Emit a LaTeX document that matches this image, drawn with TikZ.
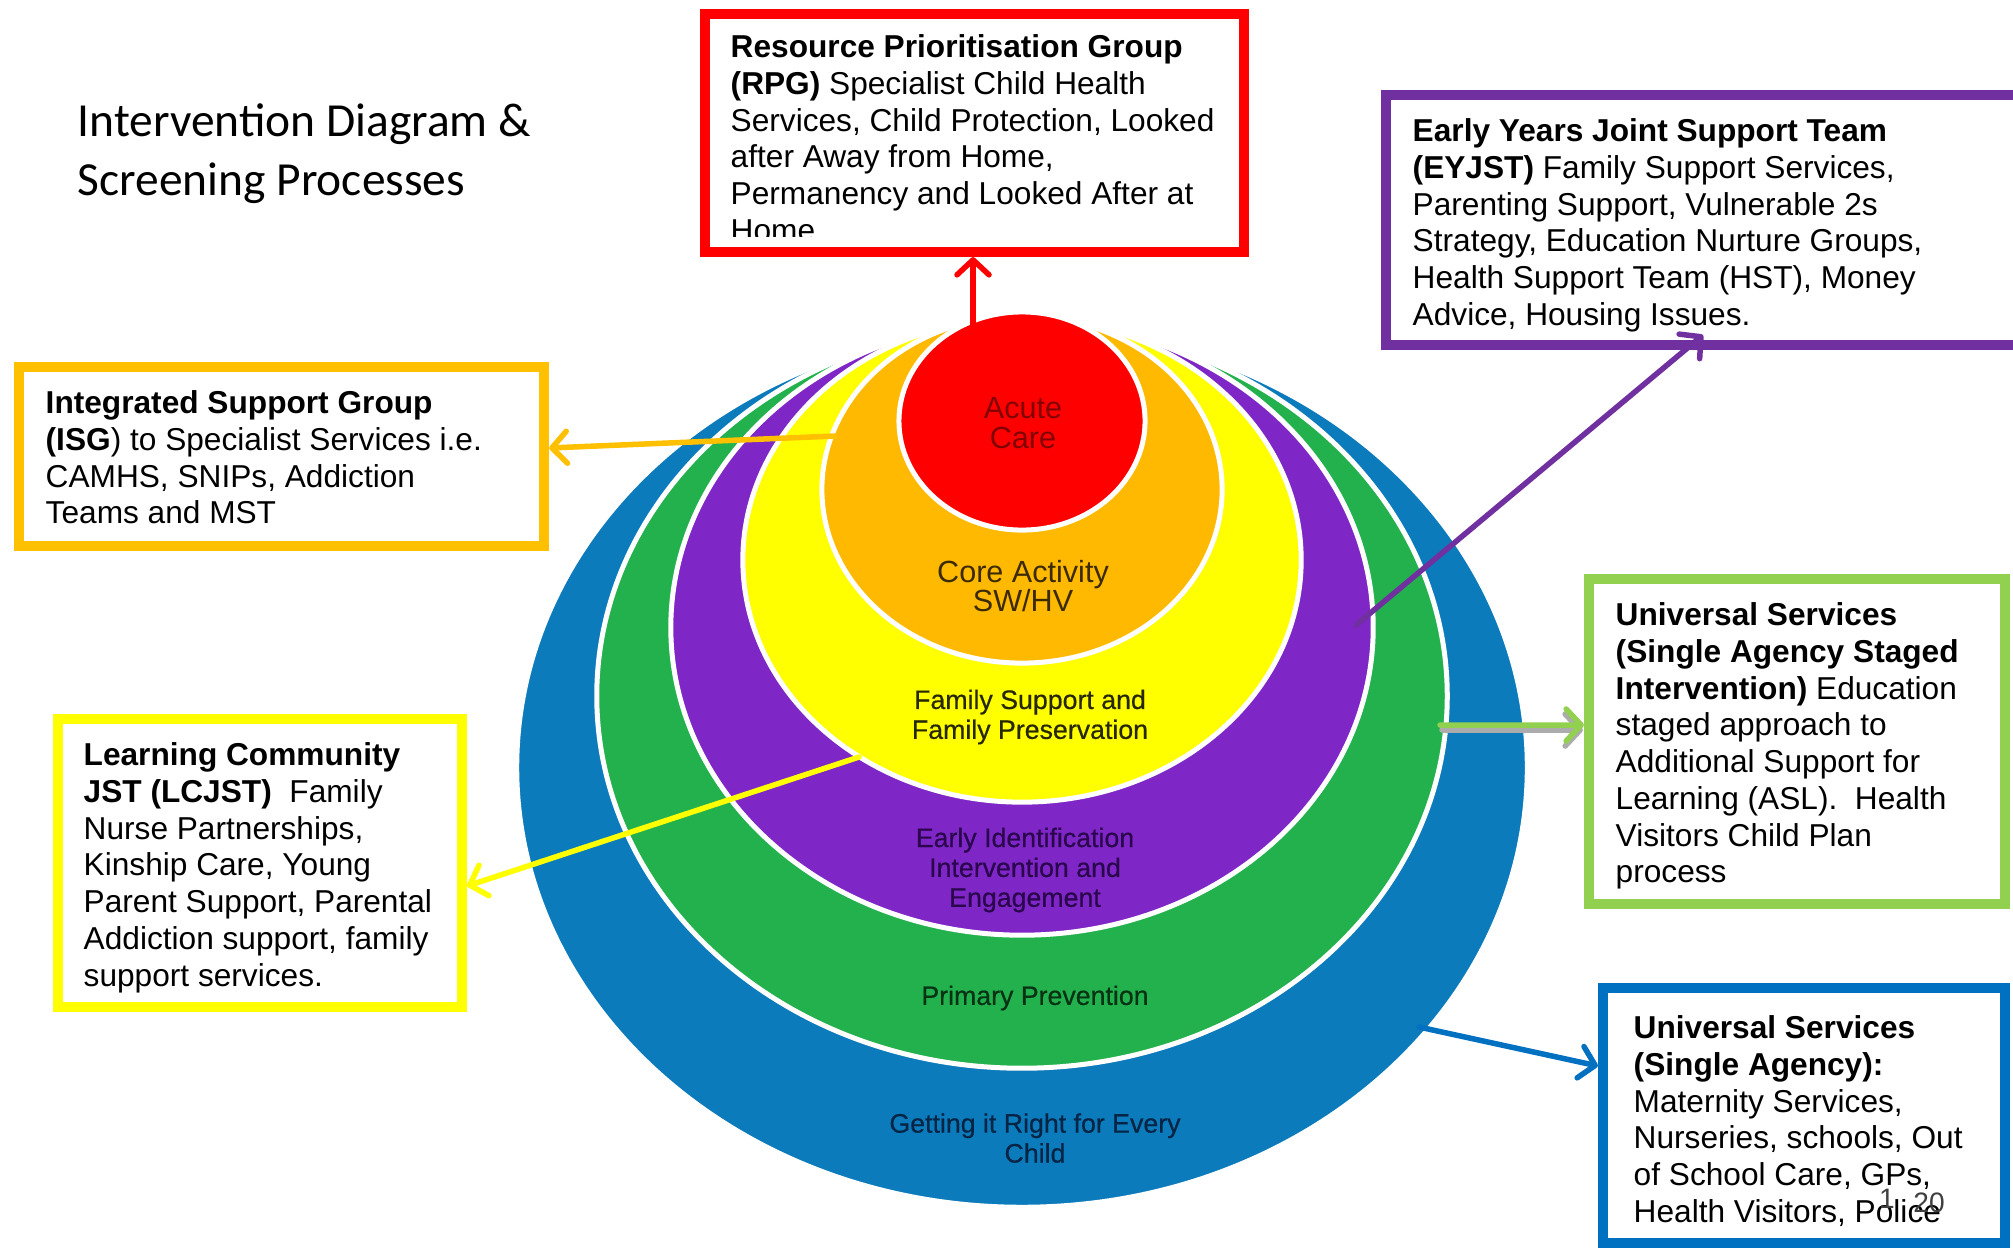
\documentclass[tikz,border=0pt]{standalone}
\usepackage{fontspec}
\setmainfont{Liberation Sans}
\newfontfamily\titlefont{Carlito}
\newfontfamily\lblfont[FakeBold=0.5]{Liberation Sans}
\usetikzlibrary{arrows.meta,shapes.geometric}
\definecolor{cred}{RGB}{255,0,0}
\definecolor{corange}{RGB}{255,185,0}
\definecolor{cyellow}{RGB}{255,255,0}
\definecolor{cpurple}{RGB}{127,38,199}
\definecolor{cgreen}{RGB}{35,177,77}
\definecolor{cblue}{RGB}{12,123,188}
\definecolor{bred}{RGB}{255,0,0}
\definecolor{borange}{RGB}{255,192,0}
\definecolor{byellow}{RGB}{255,255,0}
\definecolor{bpurple}{RGB}{112,48,160}
\definecolor{bgreen}{RGB}{146,208,80}
\definecolor{bblue}{RGB}{0,112,192}
\definecolor{tred}{RGB}{130,0,0}
\definecolor{torange}{RGB}{60,42,0}
\definecolor{tyellow}{RGB}{40,40,0}
\definecolor{tpurple}{RGB}{42,6,76}
\definecolor{tgreen}{RGB}{8,50,20}
\definecolor{tblue}{RGB}{6,36,68}
\tikzset{
  ring/.style={ellipse, draw=white, line width=0.05cm, inner sep=0, outer sep=0},
  ringlbl/.style={align=center, inner sep=0, font=\lblfont\fontsize{7.6}{8.5}\selectfont},
  ringlblbig/.style={align=center, inner sep=0, font=\fontsize{8.7}{8.5}\selectfont},
  infobox/.style={rectangle, fill=white, line width=0.1cm, inner sep=0},
  txt/.style={anchor=north west, inner sep=0, align=left, font=\fontsize{9}{10.45}\selectfont},
  conn/.style={line width=0.055cm, line cap=round, -{Straight Barb[length=0.15cm, width=0.32cm, round]}}
}
\begin{document}
\begin{tikzpicture}[x=0.01cm, y=-0.01cm]
\useasboundingbox (0,0) rectangle (2013,1248);
\clip (0,0) rectangle (2013,1248);
\fill[white] (0,0) rectangle (2013,1248);

% title
\node[anchor=north west, inner sep=0, align=left, font=\titlefont\fontsize{13.5}{16.7}\selectfont] (title) at (77,103) {Intervention Diagram \&\\Screening Processes};

% rings
\node[ring, fill=cblue,   minimum width=10.10cm, minimum height=8.79cm] (gir)   at (1022,767.5) {};
\node[ring, fill=cgreen,  minimum width=8.50cm,  minimum height=7.44cm] (prim)  at (1022,696) {};
\node[ring, fill=cpurple, minimum width=7.02cm,  minimum height=6.15cm] (early) at (1022,627.5) {};
\node[ring, fill=cyellow, minimum width=5.58cm,  minimum height=4.84cm] (fam)   at (1022,560) {};
\node[ring, fill=corange, minimum width=4.00cm,  minimum height=3.47cm] (core)  at (1022,489.5) {};
\node[ring, fill=cred,    minimum width=2.46cm,  minimum height=2.18cm] (acute) at (1022,421) {};

% ring labels
\node[ringlblbig, text=tred] (lacute) at (1023,423) {Acute\\Care};
\node[ringlblbig, text=torange] (lcore) at (1023,586) {Core Activity\\SW/HV};
\node[ringlbl, text=tyellow] (lfam) at (1030,717) {Family Support and\\Family Preservation};
\node[ringlbl, text=tpurple] (learly) at (1025,870) {Early Identification\\Intervention and\\Engagement};
\node[ringlbl, text=tgreen] (lprim) at (1035,998) {Primary Prevention};
\node[ringlbl, text=tblue] (lgir) at (1035,1138) {Getting it Right for Every\\Child};

% boxes
\node[infobox, draw=bred,    minimum width=5.39cm, minimum height=2.38cm] (rpg)   at (974.5,133) {};
\node[infobox, draw=bpurple, minimum width=6.49cm, minimum height=2.50cm] (eyjst) at (1710.5,220) {};
\node[infobox, draw=borange, minimum width=5.25cm, minimum height=1.79cm] (isg)   at (281.5,456.5) {};
\node[infobox, draw=byellow, minimum width=4.04cm, minimum height=2.88cm] (lcjst) at (260,863) {};
\node[infobox, draw=bgreen,  minimum width=4.16cm, minimum height=3.25cm] (usa)   at (1797,741.5) {};
\node[infobox, draw=bblue,   minimum width=4.02cm, minimum height=2.55cm] (usb)   at (1804,1115.5) {};

% box texts
\begin{scope}
\clip (700,9) rectangle (1249,236);
\node[txt] (rpgtext) at (730,34) {\textbf{Resource Prioritisation Group}\\\textbf{(RPG)} Specialist Child Health\\Services, Child Protection, Looked\\after Away from Home,\\Permanency and Looked After at\\Home.};
\end{scope}
\node[txt] (eyjsttext) at (1412,118) {\textbf{Early Years Joint Support Team}\\\textbf{(EYJST)} Family Support Services,\\Parenting Support, Vulnerable 2s\\Strategy, Education Nurture Groups,\\Health Support Team (HST), Money\\Advice, Housing Issues.};
\node[txt] (isgtext) at (45,390) {\textbf{Integrated Support Group}\\\textbf{(ISG}) to Specialist Services i.e.\\CAMHS, SNIPs, Addiction\\Teams and MST};
\node[txt] (lcjsttext) at (83,742) {\textbf{Learning Community}\\\textbf{JST (LCJST)}\ \ Family\\Nurse Partnerships,\\Kinship Care, Young\\Parent Support, Parental\\Addiction support, family\\support services.};
\node[txt] (usatext) at (1615,602) {\textbf{Universal Services}\\\textbf{(Single Agency Staged}\\\textbf{Intervention)} Education\\staged approach to\\Additional Support for\\Learning (ASL).\ \ Health\\Visitors Child Plan\\process};
\node[txt] (usbtext) at (1633,1015) {\textbf{Universal Services}\\\textbf{(Single Agency):}\\Maternity Services,\\Nurseries, schools, Out\\of School Care, GPs,\\Health Visitors, Police};

% page number overlay
\node[inner sep=0, text=black!75, font=\fontsize{8}{8}\selectfont] (pgone) at (1887,1199) {1};
\node[inner sep=0, text=black!75, font=\fontsize{8}{8}\selectfont] (pgtwenty) at (1929,1203) {20};

% connectors
\coordinate (rs) at (973,335);
\draw[conn, draw=bred] (rs) -- (rs |- rpg.south);
\coordinate (ps) at (1356,625);
\coordinate (pe) at (1703,335);
\draw[conn, draw=bpurple] (ps) -- (pe);
\coordinate (os) at (835,436);
\draw[conn, draw=borange] (os) -- ([yshift=0.085cm]isg.east);
\coordinate (ys) at (859,757);
\draw[conn, draw=byellow] (ys) -- ([yshift=-0.23cm]lcjst.east);
\coordinate (gs) at (1440,725);
\coordinate (gsh) at (1442,730);
\draw[conn, draw=gray!65] (gsh) -- ([xshift=-0.01cm, yshift=0.115cm]usa.west);
\draw[conn, draw=bgreen] (gs) -- ([yshift=0.165cm]usa.west);
\coordinate (bs) at (1419,1027);
\draw[conn, draw=bblue] (bs) -- ([yshift=0.495cm]usb.west);
\end{tikzpicture}
\end{document}
